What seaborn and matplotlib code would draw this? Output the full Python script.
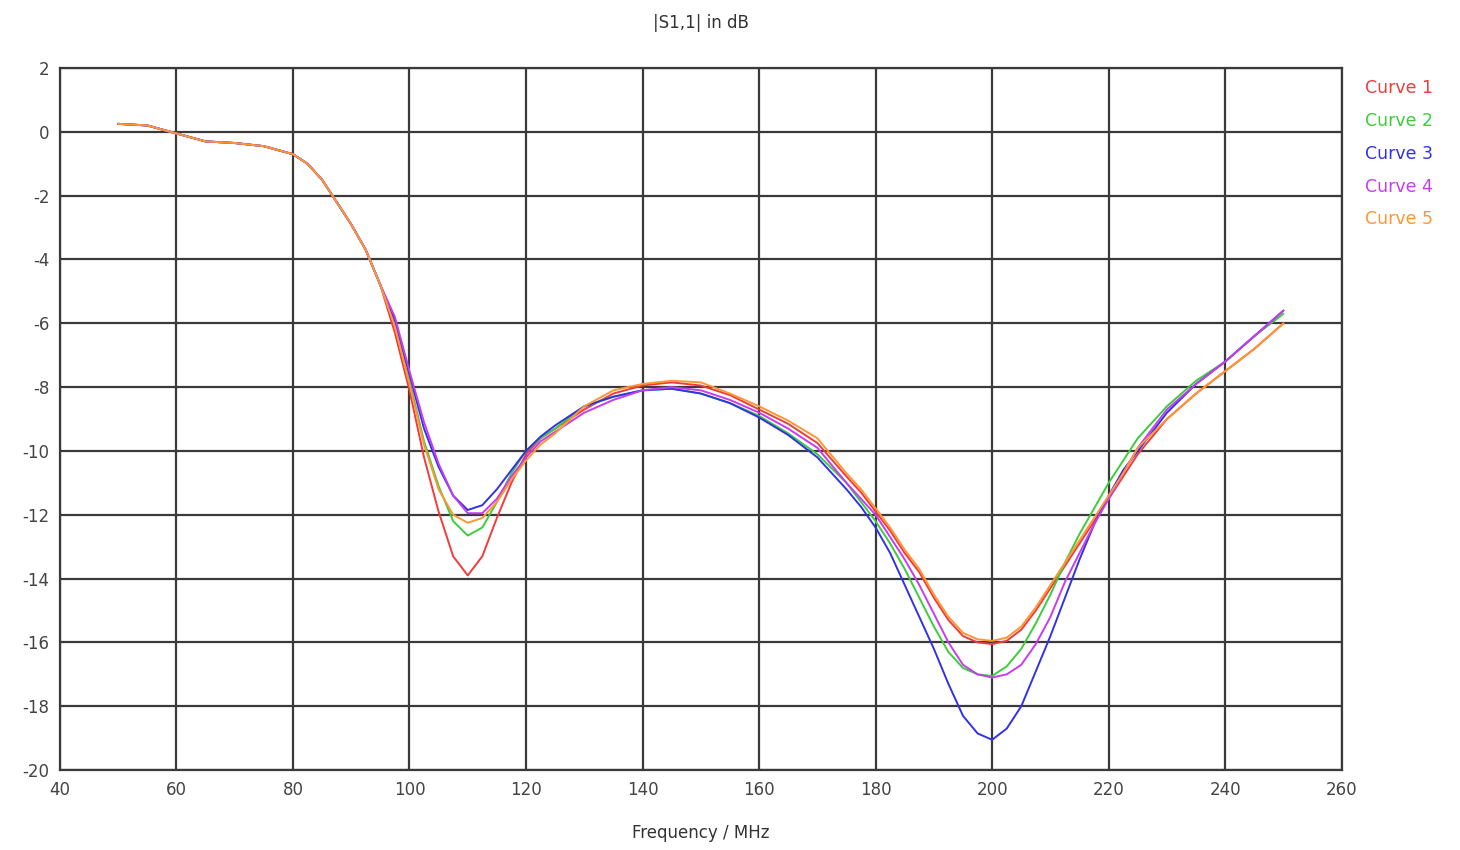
import numpy as np
import pandas as pd
import matplotlib
matplotlib.use("Agg")
import matplotlib.pyplot as plt
import seaborn as sns

# frequency points (MHz) - finer spacing around the two dips
freq = [50, 55, 60, 65, 70, 75, 80,
        82.5, 85, 87.5, 90, 92.5, 95, 97.5, 100, 102.5, 105, 107.5, 110,
        112.5, 115, 117.5, 120, 122.5, 125,
        130, 135, 140, 145, 150, 155, 160, 165, 170, 175,
        177.5, 180, 182.5, 185, 187.5, 190, 192.5, 195, 197.5, 200,
        202.5, 205, 207.5, 210, 212.5, 215, 217.5, 220, 222.5,
        225, 230, 235, 240, 245, 250]

# shared low-frequency part (50..95 MHz)
common = [0.25, 0.2, -0.05, -0.3, -0.35, -0.45, -0.7,
          -1.0, -1.5, -2.2, -2.9, -3.7, -4.8]

curve1 = common + [-6.3, -8.1, -10.2, -11.9, -13.3, -13.9, -13.3, -12.1, -11.0, -10.1, -9.6, -9.3,
                   -8.7, -8.2, -7.95, -7.85, -7.95, -8.25, -8.7, -9.15, -9.75, -10.8,
                   -11.3, -11.9, -12.5, -13.2, -13.8, -14.6, -15.3, -15.8, -16.0, -16.05,
                   -15.95, -15.6, -15.0, -14.3, -13.6, -12.9, -12.2, -11.5, -10.8,
                   -10.1, -9.0, -8.2, -7.5, -6.8, -6.0]
curve2 = common + [-6.0, -7.8, -9.7, -11.1, -12.2, -12.65, -12.4, -11.6, -10.7, -10.0, -9.6, -9.3,
                   -8.6, -8.3, -8.1, -8.05, -8.2, -8.5, -8.9, -9.45, -10.1, -11.0,
                   -11.6, -12.2, -12.9, -13.7, -14.6, -15.5, -16.3, -16.8, -17.0, -17.05,
                   -16.75, -16.2, -15.4, -14.5, -13.5, -12.6, -11.8, -11.0, -10.3,
                   -9.6, -8.6, -7.8, -7.2, -6.4, -5.7]
curve3 = common + [-5.9, -7.6, -9.3, -10.5, -11.4, -11.85, -11.7, -11.2, -10.6, -10.0, -9.55, -9.2,
                   -8.6, -8.3, -8.1, -8.05, -8.2, -8.5, -8.95, -9.5, -10.2, -11.2,
                   -11.75, -12.4, -13.2, -14.2, -15.2, -16.2, -17.3, -18.3, -18.85, -19.05,
                   -18.7, -18.0, -16.9, -15.8, -14.6, -13.4, -12.3, -11.4, -10.6,
                   -10.0, -8.8, -7.9, -7.2, -6.4, -5.6]
curve4 = common + [-5.8, -7.5, -9.1, -10.4, -11.4, -11.95, -11.95, -11.5, -10.8, -10.2, -9.7, -9.4,
                   -8.8, -8.4, -8.1, -8.0, -8.1, -8.4, -8.8, -9.3, -9.9, -11.0,
                   -11.5, -12.0, -12.7, -13.4, -14.2, -15.1, -16.0, -16.7, -17.0, -17.1,
                   -17.0, -16.7, -16.05, -15.2, -14.1, -13.2, -12.3, -11.5, -10.7,
                   -9.9, -8.7, -7.9, -7.2, -6.4, -5.6]
curve5 = common + [-6.1, -7.9, -9.8, -11.2, -12.0, -12.25, -12.1, -11.6, -10.9, -10.3, -9.8, -9.45,
                   -8.6, -8.1, -7.9, -7.8, -7.85, -8.2, -8.6, -9.05, -9.6, -10.7,
                   -11.2, -11.8, -12.4, -13.1, -13.7, -14.5, -15.2, -15.7, -15.9, -15.95,
                   -15.85, -15.5, -14.9, -14.2, -13.5, -12.8, -12.1, -11.4, -10.7,
                   -9.9, -9.0, -8.2, -7.5, -6.8, -6.0]

labels = ["Curve 1", "Curve 2", "Curve 3", "Curve 4", "Curve 5"]
colors = ["#f03c3c", "#3ccc3c", "#3232e6", "#c83cf0", "#ff9632"]

rows = []
for lab, vals in zip(labels, [curve1, curve2, curve3, curve4, curve5]):
    for f, v in zip(freq, vals):
        rows.append({"freq": f, "s11": v, "curve": lab})
df = pd.DataFrame(rows)

sns.set_style("white")
plt.rcParams["font.family"] = ["DejaVu Sans"]
plt.rcParams["axes.unicode_minus"] = False

fig = plt.figure(figsize=(14.6, 8.5), dpi=100)
ax = fig.add_axes([0.041, 0.094, 0.878, 0.826])

sns.lineplot(data=df, x="freq", y="s11", hue="curve", palette=colors,
             linewidth=1.4, ax=ax, sort=True)

ax.set_xlim(40, 260)
ax.set_ylim(-20, 2)
ax.set_xticks(np.arange(40, 261, 20))
ax.set_yticks(np.arange(-20, 3, 2))
ax.grid(True, color="#3a3a3a", linewidth=1.6)
for s in ax.spines.values():
    s.set_color("#3a3a3a")
    s.set_linewidth(1.6)
ax.tick_params(labelsize=12, colors="#444444", length=4, width=1.2)

ax.set_title("|S1,1| in dB", fontsize=12, color="#333333", pad=29)
ax.set_xlabel("Frequency / MHz", fontsize=12, color="#333333", labelpad=18)
ax.set_ylabel("")

leg = ax.legend(loc="upper left", bbox_to_anchor=(1.006, 1.006), frameon=False,
                handlelength=0, handletextpad=0, labelcolor="linecolor",
                fontsize=12.5, labelspacing=0.85)
for h in leg.legend_handles:
    h.set_visible(False)

fig.savefig("out.png", dpi=100, facecolor="white")
